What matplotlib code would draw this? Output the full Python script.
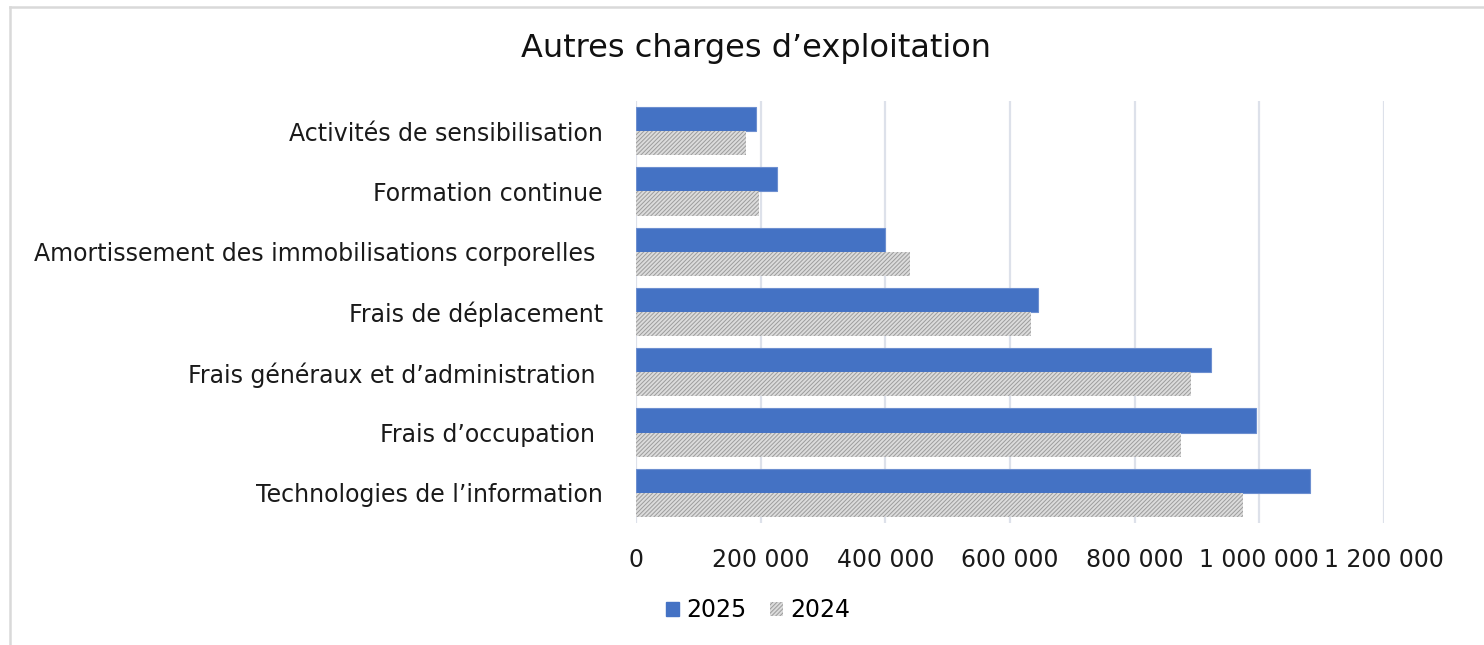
import matplotlib
matplotlib.use("Agg")
import matplotlib.pyplot as plt
from matplotlib.patches import Patch
from matplotlib.lines import Line2D
from matplotlib.ticker import FuncFormatter
import numpy as np

plt.rcParams['font.family'] = ['DejaVu Sans']
plt.rcParams['hatch.linewidth'] = 0.7

categories = [
    "Activités de sensibilisation",
    "Formation continue",
    "Amortissement des immobilisations corporelles ",
    "Frais de déplacement",
    "Frais généraux et d’administration ",
    "Frais d’occupation ",
    "Technologies de l’information",
]
values_2025 = [192000, 227000, 400000, 645000, 923000, 995000, 1081000]
values_2024 = [177000, 197000, 439000, 634000, 890000, 875000, 973000]
series_labels = ["2025", "2024"]
xticks = [0, 200000, 400000, 600000, 800000, 1000000, 1200000]

W, H = 1484, 645
fig = plt.figure(figsize=(W / 100, H / 100), dpi=100)
ax = fig.add_axes([636 / W, 1 - 523 / H, (1384 - 636) / W, (523 - 101) / H])

n = len(categories)
pos = np.arange(n)[::-1]  # first category at top
h = 0.4
blue = "#4472C4"
gray_face = "#dcdcdc"
gray_hatch = "#9c9c9c"
ax.barh(pos + h / 2, values_2025, height=h, color=blue, edgecolor="#6d8fd0",
        linewidth=0.8, zorder=3)
ax.barh(pos - h / 2, values_2024, height=h, color=gray_face, edgecolor=gray_hatch,
        hatch="////////", linewidth=0, zorder=3)

ax.set_xlim(0, 1200000)
ax.set_ylim(-0.5, n - 0.5)
ax.set_xticks(xticks)
ax.xaxis.set_major_formatter(FuncFormatter(lambda v, p: f"{int(v):,}".replace(",", " ")))
ax.set_yticks(pos)
ax.set_yticklabels(categories)
ax.grid(axis="x", color="#dde1ea", linewidth=1.6, zorder=0)
ax.set_axisbelow(True)
for s in ax.spines.values():
    s.set_visible(False)
ax.tick_params(axis="x", length=0, pad=18, labelsize=17, labelcolor="#1a1a1a")
ax.tick_params(axis="y", length=0, pad=24, labelsize=17, labelcolor="#1a1a1a")

fig.text(756 / W, 1 - 48 / H, "Autres charges d’exploitation", ha="center", va="center",
         fontsize=23, color="#111111")

handles = [Patch(facecolor=blue, edgecolor=blue),
           Patch(facecolor=gray_face, edgecolor=gray_hatch, hatch="////////", linewidth=0)]
fig.legend(handles, series_labels, loc="center", bbox_to_anchor=(758 / W, 1 - 610 / H),
           ncol=2, frameon=False, fontsize=17, handlelength=0.55, handleheight=0.55,
           handletextpad=0.3, columnspacing=1.0)

# chart border (left and top visible)
fig.add_artist(Line2D([9.5 / W, 9.5 / W], [0, 1 - 7 / H], transform=fig.transFigure,
                      color="#d9d9d9", linewidth=1.8))
fig.add_artist(Line2D([9.5 / W, 1], [1 - 7 / H, 1 - 7 / H], transform=fig.transFigure,
                      color="#d9d9d9", linewidth=1.8))

fig.savefig("out.png", dpi=100)
